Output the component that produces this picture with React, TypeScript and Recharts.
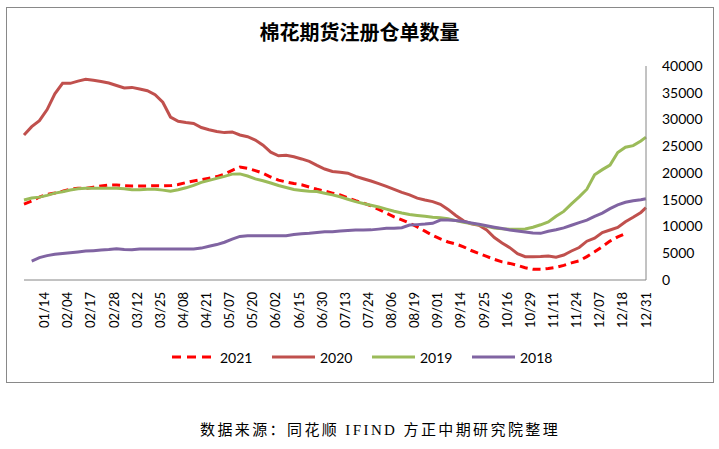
import React from 'react';
import { LineChart, Line, XAxis, YAxis } from 'recharts';

// trading-day index of each sample (day 0 = first trading day of the year)
const days = [0, 3, 6, 9, 12, 15, 18, 21, 24, 27, 30, 33, 36, 39, 42, 45, 48, 51, 54, 57, 60, 63, 66, 69, 72, 75, 78, 81, 84, 87, 90, 93, 96, 99, 102, 105, 108, 111, 114, 117, 120, 123, 126, 129, 132, 135, 138, 141, 144, 147, 150, 153, 156, 159, 162, 165, 168, 171, 174, 177, 180, 183, 186, 189, 192, 195, 198, 201, 204, 207, 210, 213, 216, 219, 222, 225, 228, 231, 234, 237, 240, 242];

const tickDays = [8, 17, 26, 35, 44, 53, 62, 71, 80, 89, 98, 107, 116, 125, 134, 143, 152, 161, 170, 179, 188, 197, 206, 215, 224, 233, 242];
const tickLabels = ['01/14', '02/04', '02/17', '02/28', '03/12', '03/25', '04/08', '04/21', '05/07', '05/20', '06/02', '06/15', '06/30', '07/13', '07/24', '08/06', '08/19', '09/01', '09/14', '09/25', '10/16', '10/29', '11/11', '11/24', '12/07', '12/18', '12/31'];

const yTicks = [0, 5000, 10000, 15000, 20000, 25000, 30000, 35000, 40000];

const s2021 = [14200, 14770, 15510, 16000, 16260, 16600, 16990, 17140, 17140, 17340, 17570, 17760, 17760, 17640, 17570, 17570, 17590, 17620, 17590, 17640, 17850, 18200, 18500, 18760, 19030, 19330, 19790, 20500, 21120, 20860, 20450, 19960, 19250, 18670, 18330, 18050, 17810, 17380, 16970, 16620, 16240, 15890, 15330, 14820, 14390, 13850, 13200, 12480, 11790, 11230, 10630, 9920, 9140, 8340, 7680, 7100, 6730, 6210, 5510, 4970, 4410, 3850, 3380, 3100, 2730, 2300, 2020, 2000, 2150, 2370, 2730, 3200, 3570, 4370, 5270, 6240, 7270, 8070, 8690, null, null, null];

const s2020 = [27100, 28670, 29790, 31850, 34800, 36760, 36760, 37170, 37510, 37320, 37120, 36820, 36350, 35880, 36000, 35700, 35380, 34630, 33230, 30460, 29660, 29420, 29270, 28500, 28090, 27770, 27550, 27680, 27100, 26780, 26150, 25190, 23900, 23210, 23320, 23030, 22630, 22170, 21440, 20750, 20280, 20150, 19960, 19380, 18930, 18500, 18020, 17490, 16950, 16390, 15910, 15310, 14950, 14650, 14150, 13200, 12060, 11060, 10520, 10220, 9350, 7940, 6930, 6040, 4920, 4350, 4350, 4390, 4490, 4260, 4670, 5420, 6070, 7250, 7830, 8880, 9350, 9810, 10900, 11740, 12630, 13510];

const s2019 = [14950, 15310, 15490, 15810, 16240, 16480, 16820, 17050, 17140, 17140, 17140, 17140, 17140, 17050, 16860, 16880, 16950, 16950, 16800, 16580, 16880, 17230, 17700, 18240, 18630, 18990, 19360, 19790, 19830, 19440, 18910, 18540, 18130, 17660, 17290, 16930, 16750, 16600, 16540, 16200, 15910, 15550, 15100, 14650, 14300, 13960, 13640, 13250, 12860, 12540, 12260, 12070, 11910, 11740, 11630, 11460, 11100, 10780, 10560, 10300, 10020, 9740, 9590, 9480, 9480, 9530, 9870, 10320, 10840, 11920, 12820, 14220, 15530, 16970, 19680, 20630, 21490, 23830, 24820, 25120, 25980, 26700];

const s2018 = [null, 3550, 4190, 4560, 4800, 4970, 5100, 5250, 5400, 5490, 5590, 5700, 5850, 5720, 5640, 5790, 5800, 5800, 5800, 5800, 5800, 5800, 5800, 5960, 6320, 6620, 7060, 7630, 8150, 8280, 8280, 8280, 8280, 8280, 8280, 8500, 8650, 8730, 8860, 9010, 9030, 9140, 9250, 9350, 9350, 9370, 9510, 9660, 9660, 9770, 10260, 10350, 10450, 10600, 11210, 11210, 11100, 10920, 10670, 10410, 10150, 9870, 9610, 9350, 9160, 8990, 8800, 8720, 9120, 9380, 9740, 10240, 10730, 11180, 11890, 12500, 13330, 14040, 14520, 14820, 14990, 15200];

const seriesNames = ['2021', '2020', '2019', '2018'];
const seriesColors = ['#FF0000', '#C0504D', '#9BBB59', '#8064A2'];
const seriesDash = ['8 5', undefined, undefined, undefined];
const seriesValues = [s2021, s2020, s2019, s2018];

const data = days.map((d, i) => {
  const row: Record<string, number | null> = { d };
  seriesNames.forEach((n, k) => {
    row['y' + n] = seriesValues[k][i];
  });
  return row;
});

const FONT = 'Lato, "Liberation Sans", sans-serif';

const XTick = (props: any) => {
  const { x, y, payload } = props;
  const idx = tickDays.indexOf(payload.value);
  const label = idx >= 0 ? tickLabels[idx] : '';
  const ty = y + 4;
  return (
    <text
      x={x}
      y={ty}
      transform={`rotate(-90 ${x} ${ty})`}
      textAnchor="end"
      dy="0.35em"
      fontSize={13}
      fontFamily={FONT}
      fill="#000"
    >
      {label}
    </text>
  );
};

export default function App() {
  return (
    <div style={{ position: 'absolute', left: 0, top: 0, width: 719, height: 449, background: '#fff' }}>
      <div
        style={{
          position: 'absolute',
          left: 6,
          top: 7,
          width: 706,
          height: 374,
          border: '1px solid #898989',
        }}
      />
      <div
        style={{
          position: 'absolute',
          left: 0,
          top: 21,
          width: 719,
          textAlign: 'center',
          fontFamily: '"Noto Sans CJK SC", sans-serif',
          fontWeight: 'bold',
          fontSize: 20,
          lineHeight: '22px',
          color: '#000',
        }}
      >
        棉花期货注册仓单数量
      </div>
      <div style={{ position: 'absolute', left: 0, top: 0 }}>
        <LineChart width={719} height={449} data={data} margin={{ top: 66, right: 13, bottom: 129, left: 24 }}>
          <XAxis
            dataKey="d"
            type="number"
            domain={[0, 242]}
            ticks={tickDays}
            interval={0}
            tickLine={false}
            axisLine={{ stroke: '#868686', strokeWidth: 1 }}
            tick={<XTick />}
            height={40}
          />
          <YAxis
            orientation="right"
            type="number"
            domain={[0, 40000]}
            ticks={yTicks}
            interval={0}
            tickLine={false}
            tickMargin={10}
            axisLine={{ stroke: '#868686', strokeWidth: 1 }}
            tick={{ fontSize: 14, fontFamily: FONT, fill: '#000' }}
            width={60}
          />
          {seriesNames.map((n, k) => (
            <Line
              key={n}
              type="linear"
              dataKey={'y' + n}
              name={n}
              stroke={seriesColors[k]}
              strokeWidth={3}
              strokeDasharray={seriesDash[k]}
              dot={false}
              activeDot={false}
              isAnimationActive={false}
              connectNulls={false}
            />
          ))}
        </LineChart>
      </div>
      <div
        style={{
          position: 'absolute',
          left: 172,
          top: 347,
          height: 20,
          display: 'flex',
          alignItems: 'center',
          fontFamily: FONT,
          fontSize: 14,
          color: '#000',
        }}
      >
        {seriesNames.map((n, k) => (
          <div key={n} style={{ display: 'flex', alignItems: 'center', marginRight: 20 }}>
            <svg width={43} height={8} style={{ marginRight: 5 }}>
              <line
                x1={0}
                y1={4}
                x2={43}
                y2={4}
                stroke={seriesColors[k]}
                strokeWidth={3}
                strokeDasharray={seriesDash[k] ? '9 6' : undefined}
              />
            </svg>
            <span style={{ width: 32 }}>{n}</span>
          </div>
        ))}
      </div>
      <div
        style={{
          position: 'absolute',
          left: 200,
          top: 418,
          whiteSpace: 'nowrap',
          fontFamily: '"Liberation Serif", "Noto Sans CJK SC", serif',
          fontSize: 15,
          letterSpacing: 2.4,
          color: '#000',
        }}
      >
        数据来源：同花顺 IFIND 方正中期研究院整理
      </div>
    </div>
  );
}
